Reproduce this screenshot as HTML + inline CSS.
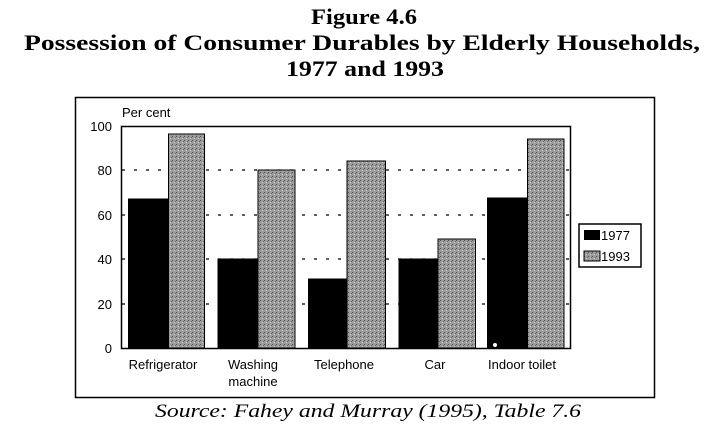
<!DOCTYPE html>
<html><head><meta charset="utf-8"><style>
html,body{margin:0;padding:0;background:#fff;}
svg{display:block;}
</style></head><body>
<svg width="727" height="441" viewBox="0 0 727 441" xmlns="http://www.w3.org/2000/svg">
<defs>
<pattern id="g" width="4" height="4" patternUnits="userSpaceOnUse">
<rect width="4" height="4" fill="#9c9c9c"/>
<rect x="0" y="0" width="1" height="1" fill="#555"/>
<rect x="2" y="2" width="1" height="1" fill="#d0d0d0"/>
<rect x="3" y="1" width="1" height="1" fill="#6a6a6a"/>
</pattern>
</defs>
<g font-family="Liberation Serif, serif" font-weight="bold" font-size="22" text-anchor="middle" fill="#000">
<text x="364" y="24" textLength="106" lengthAdjust="spacingAndGlyphs">Figure 4.6</text>
<text x="362" y="50" textLength="676" lengthAdjust="spacingAndGlyphs">Possession of Consumer Durables by Elderly Households,</text>
<text x="365" y="76" textLength="158" lengthAdjust="spacingAndGlyphs">1977 and 1993</text>
</g>
<rect x="75.5" y="97.5" width="579" height="300" fill="none" stroke="#000" stroke-width="1.5"/>
<g font-family="Liberation Sans, sans-serif" font-size="13" fill="#000">
<text x="122" y="117">Per cent</text>
<g text-anchor="end">
<text x="112" y="131">100</text>
<text x="112" y="175">80</text>
<text x="112" y="220">60</text>
<text x="112" y="264">40</text>
<text x="112" y="309">20</text>
<text x="112" y="353">0</text>
</g>
<g text-anchor="middle">
<text x="163" y="369">Refrigerator</text>
<text x="253" y="369">Washing</text>
<text x="253" y="386">machine</text>
<text x="344" y="369">Telephone</text>
<text x="435" y="369">Car</text>
<text x="522" y="369">Indoor toilet</text>
</g>
</g>
<g stroke="#000" stroke-width="1.3" stroke-dasharray="3,9">
<line x1="122" y1="170" x2="570" y2="170"/>
<line x1="122" y1="215" x2="570" y2="215"/>
<line x1="122" y1="259" x2="570" y2="259"/>
<line x1="122" y1="304" x2="570" y2="304"/>
</g>
<g stroke="#000" stroke-width="1">
<rect x="128.5" y="199" width="40" height="149" fill="#000"/>
<rect x="168.5" y="134" width="36" height="214" fill="url(#g)"/>
<rect x="218" y="259" width="40" height="89" fill="#000"/>
<rect x="258" y="170" width="37" height="178" fill="url(#g)"/>
<rect x="308.5" y="279" width="38.5" height="69" fill="#000"/>
<rect x="347" y="161" width="38.5" height="187" fill="url(#g)"/>
<rect x="399" y="259" width="39" height="89" fill="#000"/>
<rect x="438" y="239" width="37.5" height="109" fill="url(#g)"/>
<rect x="487.5" y="198" width="40" height="150" fill="#000"/>
<rect x="527.5" y="139" width="36.5" height="209" fill="url(#g)"/>
</g>
<rect x="121.5" y="126.5" width="449" height="222" fill="none" stroke="#000" stroke-width="1.5"/>
<circle cx="495" cy="345" r="2.5" fill="#fff" stroke="#000"/>
<rect x="579" y="224" width="62" height="43" fill="#fff" stroke="#000" stroke-width="1.5"/>
<rect x="584" y="230" width="16" height="10" fill="#000"/>
<rect x="584" y="251" width="16" height="10" fill="url(#g)" stroke="#000"/>
<g font-family="Liberation Sans, sans-serif" font-size="13" fill="#000">
<text x="601" y="240">1977</text>
<text x="601" y="261">1993</text>
</g>
<text x="368" y="417" text-anchor="middle" font-family="Liberation Serif, serif" font-style="italic" font-size="19" textLength="426" lengthAdjust="spacingAndGlyphs">Source: Fahey and Murray (1995), Table 7.6</text>
</svg>
</body></html>
